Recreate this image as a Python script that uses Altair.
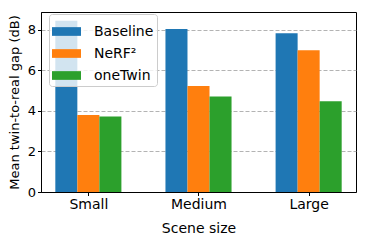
import altair as alt
import pandas as pd

categories = ["Small", "Medium", "Large"]
series = ["Baseline", "NeRF²", "oneTwin"]
baseline = [8.44, 8.03, 7.82]
nerf2 = [3.79, 5.22, 6.98]
onetwin = [3.72, 4.70, 4.47]
colors = ["#1f77b4", "#ff7f0e", "#2ca02c"]

rows = []
for k, (name, vals) in enumerate(zip(series, [baseline, nerf2, onetwin])):
    for i, v in enumerate(vals):
        c = i + (k - 1) * 0.2
        rows.append({"cat": categories[i], "series": name, "value": v,
                     "x0": c - 0.1, "x1": c + 0.1, "order": k})
df = pd.DataFrame(rows)

label_expr = "datum.value == 0 ? 'Small' : datum.value == 1 ? 'Medium' : 'Large'"

chart = alt.Chart(df).mark_bar().encode(
    x=alt.X("x0:Q", scale=alt.Scale(domain=[-0.43, 2.43], nice=False, zero=False),
            axis=alt.Axis(values=[0, 1, 2], labelExpr=label_expr, title="Scene size",
                          grid=False, tickSize=3.5, labelPadding=2, titlePadding=10,
                          labelFontSize=14, titleFontSize=14)),
    x2="x1:Q",
    y=alt.Y("value:Q", scale=alt.Scale(domain=[0, 8.87], nice=False),
            axis=alt.Axis(values=[0, 2, 4, 6, 8], title="Mean twin-to-real gap (dB)",
                          grid=True, gridDash=[4, 2], gridColor="#a0a0a0", gridWidth=0.8,
                          tickSize=3.5, labelPadding=2, titlePadding=6,
                          labelFontSize=13, titleFontSize=13)),
    y2=alt.datum(0),
    color=alt.Color("series:N", scale=alt.Scale(domain=series, range=colors),
                    legend=alt.Legend(title=None, orient="none", legendX=8, legendY=2,
                                      symbolType="M-1,-0.3L1,-0.3L1,0.3L-1,0.3Z",
                                      symbolSize=841, symbolStrokeWidth=0,
                                      labelFontSize=14, labelOffset=13, rowPadding=0,
                                      padding=3, fillColor="rgba(255,255,255,0.8)",
                                      strokeColor="#cccccc", cornerRadius=3,
                                      labelColor="black", labelFont="DejaVu Sans")),
    order="order:Q",
).properties(
    width=315, height=180,
    background="white",
    autosize=alt.AutoSizeParams(type="none"),
    padding={"left": 33, "top": 4, "right": 10, "bottom": 48},
).configure_view(
    stroke="black", strokeWidth=1
).configure_axis(
    domainColor="black", tickColor="black", labelColor="black", titleColor="black",
    labelFont="DejaVu Sans", titleFont="DejaVu Sans", titleFontWeight="normal",
)

chart.save("out.html", embed_options={"renderer": "svg", "actions": False})
